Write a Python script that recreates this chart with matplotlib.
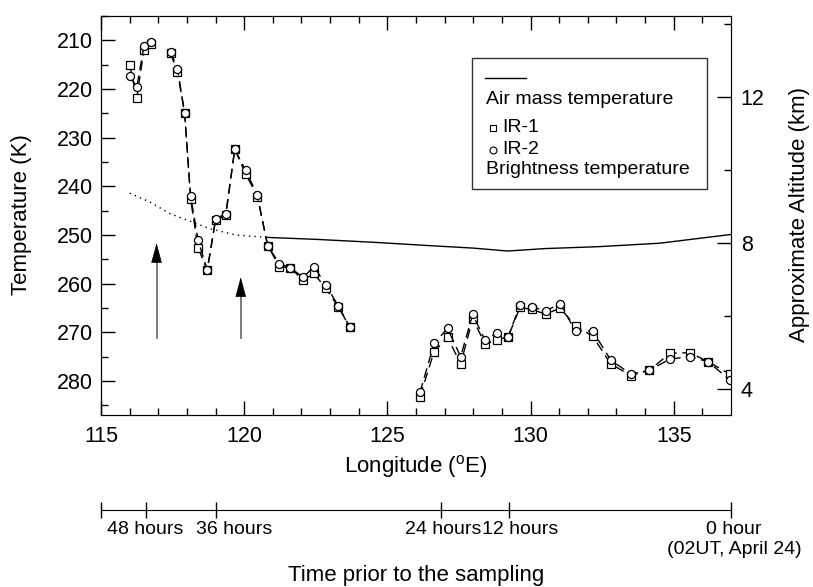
import numpy as np
import matplotlib
matplotlib.use("Agg")
import matplotlib.pyplot as plt
from matplotlib.patches import Rectangle
from matplotlib.lines import Line2D

plt.rcParams['font.family'] = ['Liberation Sans', 'DejaVu Sans']
plt.rcParams['mathtext.fontset'] = 'custom'
plt.rcParams['mathtext.rm'] = 'Liberation Sans'

nan = np.nan

# longitude of each satellite sample (nan = break in the track)
lon = [116.0, 116.25, 116.5, 116.76, nan,
       117.43, 117.67, 117.92, 118.13, 118.39, 118.71, 119.0, 119.36, 119.67,
       120.05, 120.46, 120.82, 121.23, 121.61, 122.06, 122.44, 122.85, 123.29,
       123.69, nan,
       126.14, 126.63, 127.1, 127.56, 127.98, 128.41, 128.82, 129.22, 129.63,
       130.04, 130.54, 131.03, 131.57, 132.17, 132.8, 133.5, 134.15, 134.87,
       135.57, 136.2, 136.96]

# brightness temperature, IR-1 channel (K)
ir1 = [215.0, 221.8, 211.9, 210.7, nan,
       212.7, 216.5, 224.9, 242.7, 252.6, 257.3, 247.0, 245.9, 232.4,
       237.4, 242.1, 252.2, 256.5, 256.75, 259.3, 257.9, 261.0, 264.8,
       269.0, nan,
       283.2, 274.0, 271.05, 276.5, 267.2, 272.4, 271.6, 270.9, 264.9,
       265.3, 266.3, 265.0, 268.7, 270.8, 276.5, 278.9, 277.8, 274.3,
       274.2, 276.05, 278.6]

# brightness temperature, IR-2 channel (K)
ir2 = [217.3, 219.6, 211.2, 210.35, nan,
       212.4, 215.8, 224.9, 242.0, 251.1, 257.2, 246.75, 245.6, 232.4,
       236.7, 241.8, 252.2, 255.9, 256.75, 258.7, 256.5, 260.3, 264.6,
       268.9, nan,
       282.35, 272.3, 269.2, 275.0, 266.3, 271.6, 270.1, 270.9, 264.4,
       264.8, 265.6, 264.1, 269.75, 269.75, 275.7, 278.6, 277.8, 275.5,
       275.0, 276.05, 279.8]

# air mass temperature along the trajectory
air_lon_dot = [116.0, 116.7, 117.4, 118.3, 118.8, 119.7, 120.8]
air_t_dot = [241.4, 243.2, 245.6, 247.6, 248.7, 250.0, 250.5]
air_lon = [120.8, 122.5, 124.5, 126.5, 128.0, 129.2, 130.5, 132.4, 134.5, 137.0]
air_t = [250.5, 250.9, 251.5, 252.2, 252.7, 253.3, 252.8, 252.4, 251.7, 249.9]

# arrows
arrow_lon = [116.94, 119.88]
arrow_tip = [251.1, 258.1]
arrow_base = [271.25, 271.25]

# time axis: tick positions (in longitude) and where each label sits
time_lon = [115.0, 116.57, 119.0, 126.87, 129.25, 137.0]
time_label_lon = [116.54, 119.64, 126.94, 129.62, 137.1]
time_labels = ['48 hours', '36 hours', '24 hours', '12 hours',
               '0 hour\n(02UT, April 24)']

W, H = 813, 587


def fx(x):
    return x / W


def fy(y):
    return 1 - y / H


def alt(t):
    # rough temperature -> altitude conversion for the right axis
    return 8 + (251.7 - t) / 7.5


fig = plt.figure(figsize=(W / 100, H / 100), dpi=100)
ax = fig.add_axes([fx(101), fy(415), (731 - 101) / W, (415 - 16) / H])

ax.plot(lon, ir1, color='black', lw=1.0, ls=(0, (7, 4)), marker='s', ms=5.2,
        mfc='white', mec='black', mew=0.9, zorder=3)
ax.plot(lon, ir2, color='black', lw=1.0, ls=(0, (7, 4)), marker='o', ms=5.8,
        mfc='white', mec='black', mew=0.9, zorder=4)

ax.plot(air_lon_dot, air_t_dot, color='black', lw=1.0, ls=(0, (1, 3)))
ax.plot(air_lon, air_t, color='black', lw=1.0)

for x, tip, base in zip(arrow_lon, arrow_tip, arrow_base):
    ax.plot([x, x], [base, tip + 2], color='#666666', lw=1.2, zorder=2)
    ax.annotate('', xy=(x, tip), xytext=(x, tip + 4),
                arrowprops=dict(arrowstyle='-|>,head_length=1.3,head_width=0.35',
                                color='black', lw=0.5, mutation_scale=10))

ax.set_xlim(115, 137)
ax.set_ylim(287, 205)
ax.set_xticks([115, 120, 125, 130, 135])
ax.set_xticks(np.arange(116, 137, 1), minor=True)
ax.set_yticks(np.arange(210, 281, 10))
ax.set_yticks(np.arange(205, 287, 5), minor=True)
ax.tick_params(which='both', direction='in', top=True, right=False,
               labelsize=15.5)
ax.tick_params(which='major', length=10, width=1)
ax.tick_params(which='minor', length=5, width=1)
ax.tick_params(axis='y', pad=6)
ax.tick_params(axis='x', pad=8)

ax2 = ax.twinx()
ax2.set_ylim(alt(287), alt(205))
ax2.set_yticks([4, 8, 12])
ax2.set_yticks([6, 10, 14], minor=True)
ax2.tick_params(which='both', direction='in', labelsize=15.5, pad=7)
ax2.tick_params(which='major', length=10, width=1)
ax2.tick_params(which='minor', length=5, width=1)

fig.text(fx(22), fy(215), 'Temperature (K)', rotation=90, ha='center',
         va='center', fontsize=16)
fig.text(fx(799), fy(215), 'Approximate Altitude (km)', rotation=90,
         ha='center', va='center', fontsize=16)
fig.text(fx(416), fy(466), r'Longitude ($^{\rm o}$E)', ha='center',
         va='center', fontsize=16)

# legend box
fig.add_artist(Rectangle((fx(472), fy(189)), (707 - 472) / W, (189 - 58) / H,
                         transform=fig.transFigure, fill=False,
                         edgecolor='#333333', lw=1.0))
fig.add_artist(Line2D([fx(485), fx(526)], [fy(78), fy(78)], color='black',
                      lw=1.0, transform=fig.transFigure))
fig.text(fx(486), fy(100), 'Air mass temperature', ha='left', va='center',
         fontsize=14)
fig.add_artist(Line2D([fx(493)], [fy(128)], marker='s', ms=4.5, mfc='white',
                      mec='black', mew=0.8, transform=fig.transFigure))
fig.text(fx(502), fy(128), 'IR-1', ha='left', va='center', fontsize=14)
fig.add_artist(Line2D([fx(493)], [fy(150)], marker='o', ms=5, mfc='white',
                      mec='black', mew=0.8, transform=fig.transFigure))
fig.text(fx(502), fy(150), 'IR-2', ha='left', va='center', fontsize=14)
fig.text(fx(486), fy(170), 'Brightness temperature', ha='left', va='center',
         fontsize=14)

# time prior to sampling axis
ax3 = fig.add_axes([fx(101), fy(510), (731 - 101) / W, 0.0005])
ax3.set_xlim(115, 137)
for s in ['top', 'left', 'right']:
    ax3.spines[s].set_visible(False)
ax3.set_yticks([])
ax3.set_xticks(time_lon)
ax3.set_xticklabels([])
ax3.tick_params(axis='x', direction='inout', length=12, width=1)
for x, lab in zip(time_label_lon, time_labels):
    ax3.annotate(lab, xy=(x, 0), xycoords=('data', 'axes fraction'),
                 xytext=(0, -8), textcoords='offset points', ha='center',
                 va='top', fontsize=14)
fig.text(fx(416), fy(576), 'Time prior to the sampling', ha='center',
         va='center', fontsize=16)

fig.savefig('out.png', dpi=100)
